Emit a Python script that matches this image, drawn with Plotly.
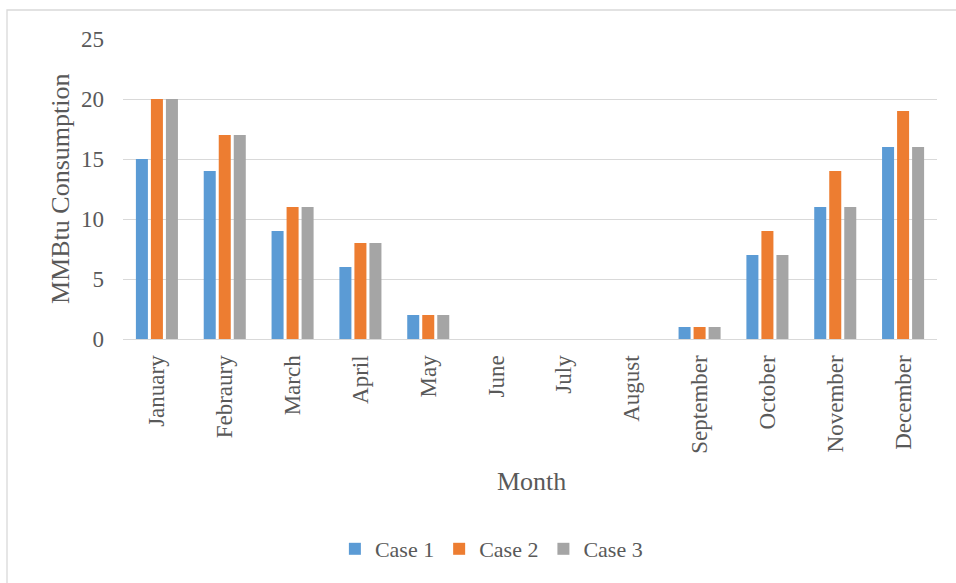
import plotly.graph_objects as go

months = ["January", "Febraury", "March", "April", "May", "June", "July",
          "August", "September", "October", "November", "December"]
case1 = [15, 14, 9, 6, 2, 0, 0, 0, 1, 7, 11, 16]
case2 = [20, 17, 11, 8, 2, 0, 0, 0, 1, 9, 14, 19]
case3 = [20, 17, 11, 8, 2, 0, 0, 0, 1, 7, 11, 16]
series = [("Case 1", case1, "#5B9BD5"),
          ("Case 2", case2, "#ED7D31"),
          ("Case 3", case3, "#A5A5A5")]
y_ticks = [0, 5, 10, 15, 20, 25]

FONT = "Liberation Serif, Times New Roman, serif"
TXT = "#595959"

fig = go.Figure()
for name, vals, color in series:
    fig.add_trace(go.Bar(x=months, y=vals, name=name,
                         marker=dict(color=color, line=dict(width=0))))

W, H = 956, 583
L, R, T, B = 123, 19, 39, 244
PW, PH = W - L - R, H - T - B

fig.update_layout(
    width=W, height=H,
    margin=dict(l=L, r=R, t=T, b=B, autoexpand=False),
    paper_bgcolor="white", plot_bgcolor="white",
    barmode="group", bargap=0.336, bargroupgap=0.2,
    font=dict(family=FONT, color=TXT, size=23),
    showlegend=True,
    legend=dict(orientation="h", xref="container", yref="container",
                x=0.514, xanchor="center", y=1 - 549 / H, yanchor="middle",
                font=dict(size=22, color=TXT), traceorder="normal",
                itemwidth=30, bgcolor="rgba(0,0,0,0)"),
    xaxis=dict(tickangle=-90, showgrid=False, showline=True,
               linecolor="#D9D9D9", linewidth=1.3, ticks="",
               ticklabelstandoff=6,
               tickfont=dict(size=23, color=TXT), fixedrange=True),
    yaxis=dict(range=[0, 25], tickvals=y_ticks, showgrid=True,
               gridcolor="#D9D9D9", gridwidth=1.3, zeroline=False,
               showline=False, ticks="", ticklabelstandoff=18,
               tickfont=dict(size=23, color=TXT), fixedrange=True),
    shapes=[dict(type="rect", xref="paper", yref="paper",
                 x0=(7 - L) / PW, x1=(W + 10 - L) / PW,
                 y0=-(H + 10 - (H - B)) / PH, y1=1 + (T - 10) / PH,
                 line=dict(color="#D9D9D9", width=1.3), layer="below")],
    annotations=[
        dict(text="MMBtu Consumption", xref="paper", yref="paper",
             x=(60 - L) / PW, y=(339 - 189) / PH, textangle=-90,
             showarrow=False, xanchor="center", yanchor="middle",
             font=dict(size=26, color=TXT)),
        dict(text="Month", xref="paper", yref="paper",
             x=(531 - L) / PW, y=-(481 - (H - B)) / PH,
             showarrow=False, xanchor="center", yanchor="middle",
             font=dict(size=26, color=TXT)),
    ],
)

fig.write_html("out.html", config={"displayModeBar": False})
